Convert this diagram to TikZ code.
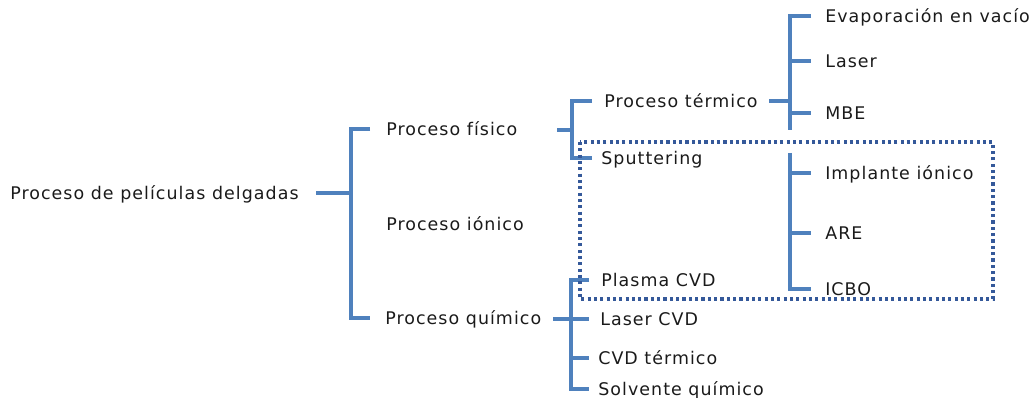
\documentclass[tikz,border=0pt]{standalone}
\usepackage{fontspec}
\setmainfont{DejaVu Sans}[LetterSpace=6]
\usepackage{xcolor}
\usepackage{tikz}
\usetikzlibrary{calc}

\definecolor{brkblue}{HTML}{4F81BD}
\definecolor{boxblue}{HTML}{35599A}
\definecolor{txtgray}{HTML}{1A1A1A}

\tikzset{
	lbl/.style={anchor=west, inner sep=0pt, text height=11pt, text depth=1.7pt, text=txtgray, font=\fontsize{12.4}{14}\selectfont},
	brk/.style={draw=brkblue, line width=2.8pt},
	dotbox/.style={draw=boxblue, line width=2.3pt, dash pattern=on 2.2pt off 2.3pt}
}

\begin{document}
\begin{tikzpicture}[x=0.025cm, y=-0.025cm]
		\useasboundingbox (0,0) rectangle (1030,398);

		% labels
		\node[lbl] (root) at (10,193) {Proceso de películas delgadas};
		\node[lbl] (fis) at (386,129) {Proceso físico};
		\node[lbl] (ion) at (386,224) {Proceso iónico};
		\node[lbl] (qui) at (385,318) {Proceso químico};
		\node[lbl] (term) at (604,101) {Proceso térmico};
		\node[lbl] (sput) at (601,158) {Sputtering};
		\node[lbl] (evap) at (825,16) {Evaporación en vacío};
		\node[lbl] (las) at (825,61) {Laser};
		\node[lbl] (mbe) at (825,113) {MBE};
		\node[lbl] (impl) at (825,173) {Implante iónico};
		\node[lbl] (are) at (825,233) {ARE};
		\node[lbl] (icbo) at (825,289) {ICBO};
		\node[lbl] (pcvd) at (601,280) {Plasma CVD};
		\node[lbl] (lcvd) at (600,319) {Laser CVD};
		\node[lbl] (tcvd) at (598,358) {CVD térmico};
		\node[lbl] (solv) at (598,389) {Solvente químico};

		% bracket spines
		\coordinate (s1) at (351,193);
		\coordinate (r1) at (316,193);
		\coordinate (s2) at (572,130);
		\coordinate (r2) at (557,130);
		\coordinate (s3) at (790,101);
		\coordinate (r3) at (769,101);
		\coordinate (e3) at (790,130);
		\coordinate (s4) at (790,153);
		\coordinate (s5) at (571,319);
		\coordinate (r5) at (553,319);

		% brackets
		\draw[brk] (r1) -- (s1);
		\draw[brk] ($(s1|-fis)+(19,0)$) -| (s1) |- ($(s1|-qui)+(19,0)$);

		\draw[brk] (r2) -- (s2);
		\draw[brk] ($(s2|-term)+(20,0)$) -| (s2) |- ($(s2|-sput)+(20,0)$);

		\draw[brk] (r3) -- (s3);
		\draw[brk] ($(s3|-evap)+(21,0)$) -| (e3);
		\draw[brk] (s3|-las) -- +(21,0);
		\draw[brk] (s3|-mbe) -- +(21,0);

		\draw[brk] (s4) |- ($(s4|-icbo)+(21,0)$);
		\draw[brk] (s4|-impl) -- +(21,0);
		\draw[brk] (s4|-are) -- +(21,0);

		\draw[brk] (r5) -- (s5);
		\draw[brk] ($(s5|-pcvd)+(18,0)$) -| (s5) |- ($(s5|-solv)+(18,0)$);
		\draw[brk] (s5|-lcvd) -- +(18,0);
		\draw[brk] (s5|-tcvd) -- +(18,0);

		% ionic group
		\draw[dotbox] (580,142) rectangle (993,299);
	\end{tikzpicture}
\end{document}
